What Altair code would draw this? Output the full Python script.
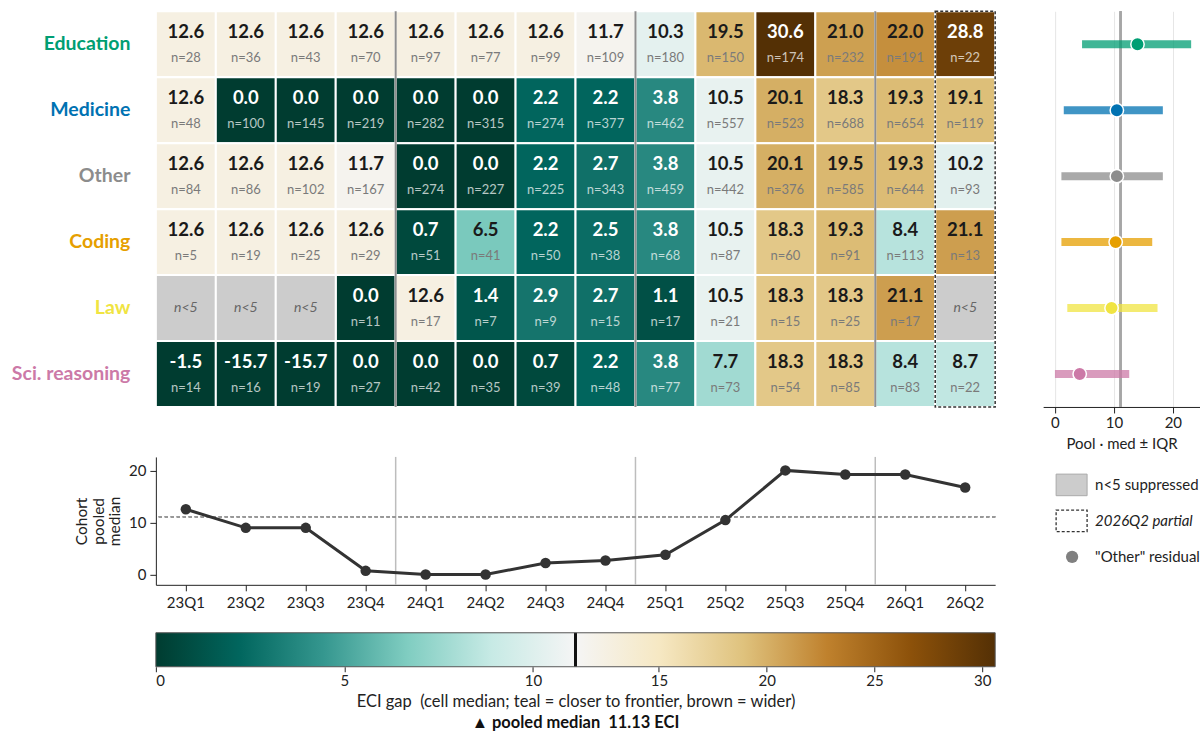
import altair as alt
import pandas as pd

# ---- data -------------------------------------------------------------
quarters = ["23Q1", "23Q2", "23Q3", "23Q4", "24Q1", "24Q2", "24Q3",
            "24Q4", "25Q1", "25Q2", "25Q3", "25Q4", "26Q1", "26Q2"]
domains = ["Education", "Medicine", "Other", "Coding", "Law", "Sci. reasoning"]
domain_colors = ["#009e73", "#0072b2", "#8c8c8c", "#e69f00", "#f0e442", "#cc79a7"]

# cell median ECI gap per domain and quarter (None = fewer than 5 items)
gap_education = [12.6, 12.6, 12.6, 12.6, 12.6, 12.6, 12.6, 11.7, 10.3, 19.5, 30.6, 21.0, 22.0, 28.8]
gap_medicine = [12.6, 0.0, 0.0, 0.0, 0.0, 0.0, 2.2, 2.2, 3.8, 10.5, 20.1, 18.3, 19.3, 19.1]
gap_other = [12.6, 12.6, 12.6, 11.7, 0.0, 0.0, 2.2, 2.7, 3.8, 10.5, 20.1, 19.5, 19.3, 10.2]
gap_coding = [12.6, 12.6, 12.6, 12.6, 0.7, 6.5, 2.2, 2.5, 3.8, 10.5, 18.3, 19.3, 8.4, 21.1]
gap_law = [None, None, None, 0.0, 12.6, 1.4, 2.9, 2.7, 1.1, 10.5, 18.3, 18.3, 21.1, None]
gap_sci = [-1.5, -15.7, -15.7, 0.0, 0.0, 0.0, 0.7, 2.2, 3.8, 7.7, 18.3, 18.3, 8.4, 8.7]

# item counts per cell
n_education = [28, 36, 43, 70, 97, 77, 99, 109, 180, 150, 174, 232, 191, 22]
n_medicine = [48, 100, 145, 219, 282, 315, 274, 377, 462, 557, 523, 688, 654, 119]
n_other = [84, 86, 102, 167, 274, 227, 225, 343, 459, 442, 376, 585, 644, 93]
n_coding = [5, 19, 25, 29, 51, 41, 50, 38, 68, 87, 60, 91, 113, 13]
n_law = [None, None, None, 11, 17, 7, 9, 15, 17, 21, 15, 25, 17, None]
n_sci = [14, 16, 19, 27, 42, 35, 39, 48, 77, 73, 54, 85, 83, 22]

# pooled cohort median per quarter
cohort_median = [12.6, 9.0, 9.0, 0.7, 0.0, 0.0, 2.2, 2.7, 3.8, 10.5, 20.1, 19.3, 19.3, 16.8]

# per-domain pooled median and inter-quartile range
pool_med = [14.0, 10.5, 10.5, 10.3, 9.6, 4.2]
pool_q1 = [4.6, 1.5, 1.1, 1.1, 2.1, 0.0]
pool_q3 = [23.1, 18.3, 18.3, 16.5, 17.4, 12.6]

pooled_median = 11.13
gap_min, gap_max = 0.0, 30.6
year_ends = ["23Q4", "24Q4", "25Q4"]
partial_quarter = "26Q2"
legend_items = ["n<5 suppressed", "2026Q2 partial", "\"Other\" residual"]

# BrBG, teal end first
brbg_r = ["#003c30", "#01665e", "#35978f", "#80cdc1", "#c7eae5", "#f5f5f5",
          "#f6e8c3", "#dfc27d", "#bf812d", "#8c510a", "#543005"]

# ---- tables -----------------------------------------------------------
rows = []
for dom, gaps, ns in zip(domains,
                         [gap_education, gap_medicine, gap_other, gap_coding, gap_law, gap_sci],
                         [n_education, n_medicine, n_other, n_coding, n_law, n_sci]):
    for q, g, n in zip(quarters, gaps, ns):
        rows.append({"domain": dom, "quarter": q, "gap": g, "n": n})
cells = pd.DataFrame(rows)

trend = pd.DataFrame({"quarter": quarters, "median": cohort_median})
pool = pd.DataFrame({"domain": domains, "med": pool_med, "q1": pool_q1, "q3": pool_q3})
seps = pd.DataFrame({"quarter": year_ends})
partial = pd.DataFrame({"quarter": [partial_quarter]})
bar_df = pd.DataFrame({"lo": [gap_min], "hi": [gap_max]})
leg = pd.DataFrame({"item": legend_items})

PW = 840          # heatmap / trend / colour bar width
dark_test = "datum.gap < 5 || datum.gap > 25"

gap_scale = alt.Scale(domain=[gap_min, pooled_median, gap_max], range=brbg_r,
                      clamp=True, nice=False)

label_color_expr = " : ".join(
    f"datum.value == '{d}' ? '{c}'" for d, c in zip(domains, domain_colors)
) + " : '#333333'"

# ---- heatmap ----------------------------------------------------------
q_scale = alt.Scale(domain=quarters, paddingInner=0, paddingOuter=0)
# bottom axis kept only as white spacer text below the grid
heat_x_axis = alt.Axis(title=None, ticks=False, domain=False, labelColor="white",
                       labelAngle=0, labelFontSize=15, labelPadding=14)
x_heat = alt.X("quarter:N", scale=q_scale, axis=heat_x_axis)
y_heat = alt.Y("domain:N", scale=alt.Scale(domain=domains, paddingInner=0, paddingOuter=0),
               axis=alt.Axis(title=None, ticks=False, domain=False, labelFontSize=19.5,
                             labelFontWeight="bold", labelPadding=26,
                             labelColor={"expr": label_color_expr}))

hbase = alt.Chart(cells).encode(x=x_heat, y=y_heat)

cell_rect = hbase.transform_filter("isValid(datum.gap)").mark_rect(
    stroke="white", strokeWidth=2
).encode(color=alt.Color("gap:Q", scale=gap_scale, legend=None))

supp_rect = hbase.transform_filter("!isValid(datum.gap)").mark_rect(
    fill="#cccccc", stroke="white", strokeWidth=2
)

val_text = hbase.transform_filter("isValid(datum.gap)").transform_calculate(
    vlabel="(datum.gap < 0 ? '-' : '') + format(abs(datum.gap), '.1f')"
).mark_text(fontSize=18.5, fontWeight="bold", dy=-12).encode(
    text="vlabel:N",
    color=alt.condition(dark_test, alt.value("white"), alt.value("#1a1a1a")),
)

n_text = hbase.transform_filter("isValid(datum.gap)").transform_calculate(
    nlabel="'n=' + datum.n"
).mark_text(fontSize=13, dy=14).encode(
    text="nlabel:N",
    color=alt.condition(dark_test, alt.value("rgba(255,255,255,0.72)"), alt.value("#7a7a7a")),
)

supp_text = hbase.transform_filter("!isValid(datum.gap)").mark_text(
    fontSize=14, fontStyle="italic", color="#666666"
).encode(text=alt.value("n<5"))

heat_sep = alt.Chart(seps).mark_rule(color="#8f8f8f", strokeWidth=2).encode(
    x=alt.X("quarter:N", scale=q_scale, bandPosition=1, axis=heat_x_axis)
)

partial_box = alt.Chart(partial).mark_rect(
    fillOpacity=0, stroke="#333333", strokeWidth=1.5, strokeDash=[3, 2]
).encode(x=alt.X("quarter:N", scale=q_scale, axis=heat_x_axis))

heat = alt.layer(cell_rect, supp_rect, val_text, n_text, supp_text, heat_sep, partial_box
                 ).properties(width=PW, height=396)

# ---- cohort trend -----------------------------------------------------
trend_x_axis = alt.Axis(title=None, labelAngle=0, labelFontSize=15, tickSize=6, labelPadding=5)
trend_y_axis = alt.Axis(values=[0, 10, 20], grid=False, tickSize=6, labelPadding=4,
                        labelFontSize=15, title=["Cohort", "pooled", "median"],
                        titleFontSize=15.5, titleLineHeight=16.5, titlePadding=6)
y_trend_scale = alt.Scale(domain=[-2, 22.7], nice=False, zero=False)
x_trend = alt.X("quarter:N", scale=q_scale, axis=trend_x_axis)
y_trend = alt.Y("median:Q", scale=y_trend_scale, axis=trend_y_axis)

trend_sep = alt.Chart(seps).mark_rule(color="#bdbdbd", strokeWidth=1.5).encode(
    x=alt.X("quarter:N", scale=q_scale, bandPosition=1, axis=trend_x_axis)
)
trend_ref = alt.Chart(trend).mark_rule(color="#9a9a9a", strokeWidth=1, strokeDash=[3, 3]).encode(
    y=alt.Y(datum=pooled_median, scale=y_trend_scale, axis=trend_y_axis)
)
trend_line = alt.Chart(trend).mark_line(color="#333333", strokeWidth=3).encode(x=x_trend, y=y_trend)
trend_pts = alt.Chart(trend).mark_circle(color="#333333", size=110, opacity=1).encode(
    x=x_trend, y=y_trend
)
trend_chart = alt.layer(trend_sep, trend_ref, trend_line, trend_pts).properties(width=PW, height=128)

# ---- colour bar -------------------------------------------------------
gradient = alt.LinearGradient(
    gradient="linear", x1=0, x2=1, y1=0, y2=0,
    stops=[alt.GradientStop(offset=i / (len(brbg_r) - 1), color=c) for i, c in enumerate(brbg_r)],
)
x_bar = alt.X("lo:Q",
              scale=alt.Scale(domain=[gap_min, pooled_median, gap_max], range=[0, PW / 2, PW],
                              nice=False, zero=False),
              axis=alt.Axis(values=[0, 5, 10, 15, 20, 25, 30], domain=False, tickSize=5,
                            labelPadding=2, labelFontSize=15, titlePadding=5, titleFontSize=16.5,
                            title="ECI gap\u00a0 (cell median; teal = closer to frontier, brown = wider)"))
bar_ramp = alt.Chart(bar_df).mark_rect(fill=gradient).encode(x=x_bar, x2="hi:Q")
bar_mid = alt.Chart(bar_df).mark_rule(color="#111111", strokeWidth=3).encode(x=alt.datum(pooled_median))
bar_frame = alt.Chart(bar_df).mark_rect(fillOpacity=0, stroke="#555555", strokeWidth=1).encode(
    x=x_bar, x2="hi:Q"
)
colorbar = alt.layer(bar_ramp, bar_mid, bar_frame).properties(
    width=PW, height=34,
    title=alt.TitleParams(f"\u25b2 pooled median\u00a0 {pooled_median:.2f} ECI", orient="bottom",
                          fontSize=16.5, fontWeight="bold", offset=5, frame="group", color="#111111"),
)

# ---- pooled median +/- IQR per domain -----------------------------------
y_pool = alt.Y("domain:N", scale=alt.Scale(domain=domains, paddingInner=0, paddingOuter=0), axis=None)
x_pool_scale = alt.Scale(domain=[-2, 24.6], nice=False, zero=False)
x_pool_axis = alt.Axis(values=[0, 10, 20], grid=True, gridColor="#e6e6e6", tickSize=6,
                       labelPadding=3, labelFontSize=15, titleFontSize=15, titlePadding=6,
                       title="Pool \u00b7 med \u00b1 IQR")
dom_color = alt.Color("domain:N", scale=alt.Scale(domain=domains, range=domain_colors), legend=None)

pool_ref = alt.Chart(pool).mark_rule(color="#a6a6a6", strokeWidth=1.8).encode(
    x=alt.X(datum=pooled_median, scale=x_pool_scale, axis=x_pool_axis)
)
pool_iqr = alt.Chart(pool).mark_rule(strokeWidth=8, opacity=0.75).encode(
    x=alt.X("q1:Q", scale=x_pool_scale, axis=x_pool_axis), x2="q3:Q", y=y_pool, color=dom_color
)
pool_dot = alt.Chart(pool).mark_circle(size=180, opacity=1, stroke="white", strokeWidth=1.5).encode(
    x=alt.X("med:Q", scale=x_pool_scale, axis=x_pool_axis), y=y_pool, color=dom_color
)
pool_chart = alt.layer(pool_ref, pool_iqr, pool_dot).properties(width=157, height=396)

# ---- key ---------------------------------------------------------------
y_leg = alt.Y("item:N", scale=alt.Scale(domain=legend_items, paddingInner=0.4, paddingOuter=0.2),
              axis=None)
key_supp = alt.Chart(leg).transform_filter(alt.datum.item == legend_items[0]).mark_rect(
    fill="#cccccc", stroke="#aaaaaa", strokeWidth=1
).encode(x=alt.value(13), x2=alt.value(44), y=y_leg)
key_part = alt.Chart(leg).transform_filter(alt.datum.item == legend_items[1]).mark_rect(
    fillOpacity=0, stroke="#333333", strokeWidth=1.3, strokeDash=[3, 2]
).encode(x=alt.value(13), x2=alt.value(44), y=y_leg)
key_dot = alt.Chart(leg).transform_filter(alt.datum.item == legend_items[2]).mark_circle(
    color="#808080", size=150, opacity=1
).encode(x=alt.value(29), y=y_leg)
key_txt = alt.Chart(leg).transform_filter(alt.datum.item != legend_items[1]).mark_text(
    align="left", baseline="middle", fontSize=15, color="#222222"
).encode(x=alt.value(52), y=y_leg, text="item:N")
key_txt_it = alt.Chart(leg).transform_filter(alt.datum.item == legend_items[1]).mark_text(
    align="left", baseline="middle", fontSize=15, fontStyle="italic", color="#222222"
).encode(x=alt.value(52), y=y_leg, text="item:N")
key_chart = alt.layer(key_supp, key_part, key_dot, key_txt, key_txt_it).properties(width=150, height=108)

# ---- assemble ----------------------------------------------------------
left = alt.vconcat(heat, trend_chart, colorbar, spacing=20)
right = alt.vconcat(pool_chart, key_chart, spacing=15)

chart = (
    alt.hconcat(left, right, spacing=47)
    .resolve_scale(color="independent")
    .properties(padding={"left": 11, "top": 10, "right": 0, "bottom": 0})
    .configure(font="Lato")
    .configure_view(stroke=None)
    .configure_axis(labelColor="#222222", titleColor="#222222", domainColor="#222222",
                    tickColor="#222222", titleFontWeight="normal", labelFontSize=15,
                    titleFontSize=15)
)

chart.save("out.html", embed_options={"renderer": "svg", "actions": False})
